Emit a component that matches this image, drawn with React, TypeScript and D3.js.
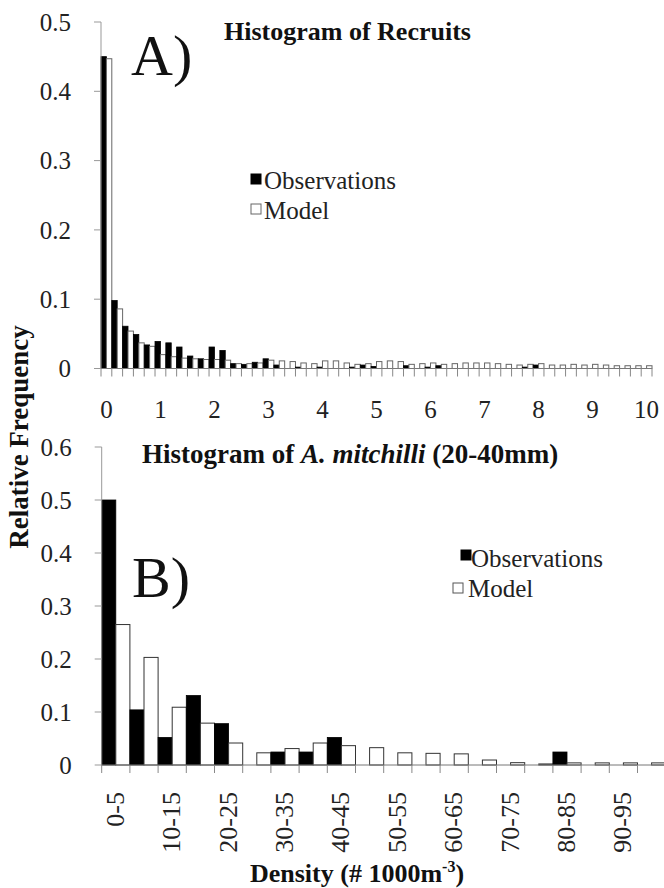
import React from "react";
import * as d3 from "d3";

// Panel A: recruits histogram, bins of 0.2 from 0 to 10
const recruitBins: string[] = d3.range(51).map((i) => (i * 0.2).toFixed(1));
const recruitObs: number[] = [
  0.45, 0.098, 0.061, 0.049, 0.034, 0.039, 0.037, 0.031, 0.018, 0.014,
  0.031, 0.026, 0.007, 0.006, 0.009, 0.014, 0.005, 0.0, 0.002, 0.0,
  0.002, 0.0, 0.0, 0.002, 0.005, 0.003, 0.0, 0.0, 0.004, 0.0,
  0.002, 0.004, 0.0, 0.0, 0.0, 0.0, 0.0, 0.0, 0.0, 0.002,
  0.005, 0.0, 0.0, 0.0, 0.0, 0.0, 0.0, 0.0, 0.0, 0.0, 0.0,
];
const recruitModel: number[] = [
  0.447, 0.086, 0.054, 0.037, 0.032, 0.02, 0.017, 0.015, 0.014, 0.013,
  0.013, 0.012, 0.007, 0.007, 0.008, 0.012, 0.011, 0.01, 0.008, 0.007,
  0.011, 0.011, 0.008, 0.006, 0.007, 0.01, 0.011, 0.01, 0.006, 0.007,
  0.008, 0.006, 0.007, 0.008, 0.008, 0.008, 0.007, 0.006, 0.005, 0.006,
  0.007, 0.005, 0.005, 0.006, 0.005, 0.006, 0.005, 0.004, 0.004, 0.004, 0.004,
];
const recruitTickLabels = ["0", "1", "2", "3", "4", "5", "6", "7", "8", "9", "10"];
const recruitYTicks = [0, 0.1, 0.2, 0.3, 0.4, 0.5];

// Panel B: A. mitchilli (20-40mm) density histogram
const densityBins = [
  "0-5", "5-10", "10-15", "15-20", "20-25", "25-30", "30-35", "35-40", "40-45", "45-50",
  "50-55", "55-60", "60-65", "65-70", "70-75", "75-80", "80-85", "85-90", "90-95", "95-100",
];
const densityObs: number[] = [
  0.5, 0.104, 0.052, 0.131, 0.078, 0.0, 0.0245, 0.0245, 0.052, 0.0,
  0.0, 0.0, 0.0, 0.0, 0.0, 0.0, 0.0245, 0.0, 0.0, 0.0,
];
const densityModel: number[] = [
  0.265, 0.203, 0.109, 0.079, 0.0415, 0.023, 0.031, 0.0415, 0.0365, 0.0327,
  0.023, 0.022, 0.021, 0.0094, 0.0044, 0.002, 0.004, 0.004, 0.004, 0.004,
];
const densityYTicks = [0, 0.1, 0.2, 0.3, 0.4, 0.5, 0.6];

const FONT = "Liberation Serif";
const series = ["obs", "model"];

function Histogram({
  cats, obs, model, x0, x1, yTop, yZero, yMax, yTicks, modelStroke,
}: {
  cats: string[]; obs: number[]; model: number[]; x0: number; x1: number;
  yTop: number; yZero: number; yMax: number; yTicks: number[]; modelStroke: string;
}) {
  const x = d3.scaleBand().domain(cats).range([x0, x1]).padding(0);
  const inner = d3.scaleBand().domain(series).range([0, x.bandwidth()]).padding(0);
  const y = d3.scaleLinear().domain([0, yMax]).range([yZero, yTop]);
  const bw = inner.bandwidth();
  const boundaries = cats.map((c) => x(c) as number).concat([x1]);
  return (
    <g>
      {cats.map((c, i) => (
        <g key={c}>
          {obs[i] > 0 && (
            <rect
              x={(x(c) as number) + (inner("obs") as number)}
              y={y(obs[i])}
              width={bw}
              height={yZero - y(obs[i])}
              fill="#000"
              stroke="#000"
              strokeWidth={0.8}
            />
          )}
          <rect
            x={(x(c) as number) + (inner("model") as number)}
            y={y(model[i])}
            width={bw}
            height={yZero - y(model[i])}
            fill="#fff"
            stroke={modelStroke}
            strokeWidth={1}
          />
        </g>
      ))}
      {/* y axis */}
      <line x1={x0} x2={x0} y1={yTop} y2={yZero} stroke="#999" strokeWidth={1} />
      {yTicks.map((t) => (
        <g key={t}>
          <line x1={x0 - 7} x2={x0} y1={y(t)} y2={y(t)} stroke="#999" strokeWidth={1} />
          <text
            x={x0 - 30}
            y={y(t)}
            dy="0.35em"
            textAnchor="end"
            fontFamily={FONT}
            fontSize={25}
            fill="#222"
          >
            {String(t)}
          </text>
        </g>
      ))}
      {/* x axis */}
      <line x1={x0} x2={x1} y1={yZero} y2={yZero} stroke="#777" strokeWidth={1} />
      {boundaries.map((b, i) => (
        <line key={i} x1={b} x2={b} y1={yZero} y2={yZero + 8} stroke="#888" strokeWidth={1} />
      ))}
    </g>
  );
}

export default function App() {
  // Panel A geometry
  const aX0 = 101, aX1 = 652, aTop = 22, aZero = 368.5;
  const xA = d3.scaleBand().domain(recruitBins).range([aX0, aX1]).padding(0);
  // Panel B geometry
  const bX0 = 101.7, bX1 = 665.7, bTop = 447, bZero = 765;
  const xB = d3.scaleBand().domain(densityBins).range([bX0, bX1]).padding(0);

  return (
    <svg width={664} height={888} style={{ display: "block", position: "absolute", left: 0, top: 0, background: "#fff" }}>
      <rect width={664} height={888} fill="#fff" />
      <Histogram
        cats={recruitBins} obs={recruitObs} model={recruitModel}
        x0={aX0} x1={aX1} yTop={aTop} yZero={aZero} yMax={0.5}
        yTicks={recruitYTicks} modelStroke="#666"
      />
      {recruitTickLabels.map((lab, k) => {
        const c = recruitBins[k * 5];
        return (
          <text
            key={lab}
            x={(xA(c) as number) + xA.bandwidth() / 2}
            y={418}
            textAnchor="middle"
            fontFamily={FONT}
            fontSize={25}
            fill="#222"
          >
            {lab}
          </text>
        );
      })}
      <text x={224} y={40} fontFamily={FONT} fontSize={26} fontWeight="bold" fill="#111">
        Histogram of Recruits
      </text>
      <text x={131} y={75} fontFamily={FONT} fontSize={58} fill="#111">A)</text>
      {/* legend A */}
      <rect x={251} y={174} width={10} height={10} fill="#000" stroke="#000" />
      <text x={264} y={189} fontFamily={FONT} fontSize={25} fill="#222">Observations</text>
      <rect x={251} y={204} width={10} height={10} fill="#fff" stroke="#666" />
      <text x={264} y={219} fontFamily={FONT} fontSize={25} fill="#222">Model</text>

      <Histogram
        cats={densityBins} obs={densityObs} model={densityModel}
        x0={bX0} x1={bX1} yTop={bTop} yZero={bZero} yMax={0.6}
        yTicks={densityYTicks} modelStroke="#333"
      />
      {densityBins.map((c, i) =>
        i % 2 === 0 ? (
          <text
            key={c}
            transform={`translate(${(xB(c) as number) + xB.bandwidth() / 2 + 8},792) rotate(-90)`}
            textAnchor="end"
            fontFamily={FONT}
            fontSize={26}
            fill="#222"
          >
            {c}
          </text>
        ) : null
      )}
      <text x={142} y={463} fontFamily={FONT} fontSize={27} fontWeight="bold" fill="#111">
        Histogram of <tspan fontStyle="italic">A. mitchilli</tspan> (20-40mm)
      </text>
      <text x={132} y={597} fontFamily={FONT} fontSize={58} fill="#111">B)</text>
      {/* legend B */}
      <rect x={461} y={550} width={10} height={10} fill="#000" stroke="#000" />
      <text x={471} y={567} fontFamily={FONT} fontSize={25} fill="#222">Observations</text>
      <rect x={453} y={583} width={10} height={10} fill="#fff" stroke="#555" />
      <text x={468} y={597} fontFamily={FONT} fontSize={25} fill="#222">Model</text>

      {/* shared axis titles */}
      <text
        transform="translate(28,437) rotate(-90)"
        textAnchor="middle"
        fontFamily={FONT}
        fontSize={27}
        fontWeight="bold"
        fill="#111"
      >
        Relative Frequency
      </text>
      <text x={357} y={882} textAnchor="middle" fontFamily={FONT} fontSize={26} fontWeight="bold" fill="#111">
        Density (# 1000m<tspan dy={-10} fontSize={16}>-3</tspan><tspan dy={10}>)</tspan>
      </text>
    </svg>
  );
}
